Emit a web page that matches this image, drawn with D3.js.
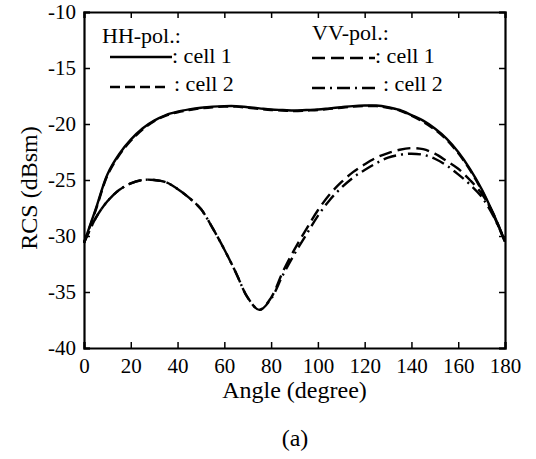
<!DOCTYPE html>
<html>
<head>
<meta charset="utf-8">
<script src="https://cdn.jsdelivr.net/npm/d3@7"></script>
<style>
  body { margin: 0; background: #fff; }
  svg text { font-family: "Liberation Serif", serif; fill: #000; }
</style>
</head>
<body>
<div id="grafico"></div>
<script>
// angulos (grados)
const angulos = d3.range(0, 181, 5);

// HH-pol. cell 1 (linea continua)
const hhCell1 = [-30.6, -27.6, -24.5, -22.7, -21.4, -20.4, -19.7, -19.2, -18.9, -18.7,
    -18.55, -18.45, -18.4, -18.4, -18.5, -18.6, -18.7, -18.75, -18.8, -18.75,
    -18.7, -18.6, -18.5, -18.4, -18.35, -18.35, -18.5, -18.75, -19.2, -19.7,
    -20.4, -21.3, -22.5, -24.0, -25.8, -28.0, -30.5];

// HH-pol. cell 2 (guiones)
const hhCell2 = [-30.6, -27.7, -24.6, -22.8, -21.5, -20.5, -19.75, -19.25, -18.95, -18.75,
    -18.6, -18.5, -18.45, -18.45, -18.55, -18.65, -18.75, -18.8, -18.85, -18.8,
    -18.75, -18.65, -18.55, -18.45, -18.4, -18.4, -18.55, -18.8, -19.25, -19.8,
    -20.5, -21.4, -22.6, -24.1, -25.9, -28.1, -30.5];

// VV-pol. cell 1 (guiones largos)
const vvCell1 = [-30.6, -28.4, -26.9, -25.9, -25.3, -25.0, -25.0, -25.2, -25.8, -26.6,
    -27.6, -29.3, -31.2, -33.3, -35.5, -36.6, -35.5, -33.2, -31.2, -29.4,
    -27.7, -26.3, -25.2, -24.3, -23.6, -23.0, -22.6, -22.3, -22.15, -22.25,
    -22.65, -23.3, -24.0, -25.0, -26.2, -28.0, -30.5];

// VV-pol. cell 2 (raya-punto)
const vvCell2 = [-30.6, -28.4, -26.9, -25.9, -25.3, -25.0, -25.0, -25.2, -25.8, -26.6,
    -27.6, -29.3, -31.2, -33.3, -35.5, -36.6, -35.6, -33.5, -31.6, -29.9,
    -28.2, -26.8, -25.7, -24.8, -24.1, -23.5, -23.0, -22.75, -22.65, -22.75,
    -23.1, -23.7, -24.5, -25.4, -26.5, -28.2, -30.5];

const ticksX = d3.range(0, 181, 20);
const ticksY = [-40, -35, -30, -25, -20, -15, -10];

const series = [
    { nombre: "HH1", valores: hhCell1, dash: null },
    { nombre: "HH2", valores: hhCell2, dash: "10,5" },
    { nombre: "VV1", valores: vvCell1, dash: "13,6" },
    { nombre: "VV2", valores: vvCell2, dash: "13,5,2,5" }
];

const fuente = "Liberation Serif, serif";

const svgWidth = 536, svgHeight = 459;
const margin = { top: 12, right: 31, bottom: 111, left: 84 };
const width = svgWidth - margin.left - margin.right;
const height = svgHeight - margin.top - margin.bottom;

const root = d3.select("#grafico")
    .append("svg")
    .attr("width", svgWidth)
    .attr("height", svgHeight)
    .attr("font-family", fuente);

const svg = root.append("g")
    .attr("transform", `translate(${margin.left}, ${margin.top})`);

const x = d3.scaleLinear().domain([0, 180]).range([0, width]);
const y = d3.scaleLinear().domain([-40, -10]).range([height, 0]);

// Ejes (ticks hacia dentro en los cuatro lados)
const ejeAbajo = svg.append("g")
    .attr("transform", `translate(0, ${height})`)
    .call(d3.axisBottom(x).tickValues(ticksX).tickSize(-6).tickPadding(10));
const ejeIzq = svg.append("g")
    .call(d3.axisLeft(y).tickValues(ticksY).tickSize(-6).tickPadding(8));
const ejeArriba = svg.append("g")
    .call(d3.axisTop(x).tickValues(ticksX).tickSize(-6).tickFormat(""));
const ejeDer = svg.append("g")
    .attr("transform", `translate(${width}, 0)`)
    .call(d3.axisRight(y).tickValues(ticksY).tickSize(-6).tickFormat(""));

[ejeAbajo, ejeIzq, ejeArriba, ejeDer].forEach(g => {
    g.attr("font-family", fuente).attr("font-size", 21);
    g.select(".domain").attr("stroke", "#000").attr("stroke-width", 2.2);
    g.selectAll(".tick line").attr("stroke", "#000").attr("stroke-width", 1.5);
    g.selectAll(".tick text").attr("fill", "#000");
});
ejeIzq.selectAll(".tick text").text(d => String(d)); // guion normal, no signo menos

// Curvas
const linea = d3.line()
    .x((d, i) => x(angulos[i]))
    .y(d => y(d))
    .curve(d3.curveCatmullRom);

svg.selectAll("path.curva")
    .data(series)
    .enter()
    .append("path")
    .attr("class", "curva")
    .attr("d", d => linea(d.valores))
    .attr("fill", "none")
    .attr("stroke", "#000")
    .attr("stroke-width", 2.4)
    .attr("stroke-dasharray", d => d.dash);

// Leyenda
const leyenda = root.append("g").attr("font-size", 22);

leyenda.append("text").attr("x", 102).attr("y", 43).text("HH-pol.:");
leyenda.append("line").attr("x1", 110).attr("x2", 172).attr("y1", 57).attr("y2", 57)
    .attr("stroke", "#000").attr("stroke-width", 2.4);
leyenda.append("text").attr("x", 172).attr("y", 63).text(": cell 1");
leyenda.append("line").attr("x1", 110).attr("x2", 168).attr("y1", 87).attr("y2", 87)
    .attr("stroke", "#000").attr("stroke-width", 2.4).attr("stroke-dasharray", "10,5");
leyenda.append("text").attr("x", 174).attr("y", 91).text(": cell 2");

leyenda.append("text").attr("x", 312).attr("y", 40).text("VV-pol.:");
leyenda.append("line").attr("x1", 312).attr("x2", 375).attr("y1", 58).attr("y2", 58)
    .attr("stroke", "#000").attr("stroke-width", 2.4).attr("stroke-dasharray", "13,6");
leyenda.append("text").attr("x", 375).attr("y", 63).text(": cell 1");
leyenda.append("line").attr("x1", 312).attr("x2", 380).attr("y1", 88).attr("y2", 88)
    .attr("stroke", "#000").attr("stroke-width", 2.4).attr("stroke-dasharray", "13,5,2,5");
leyenda.append("text").attr("x", 383).attr("y", 91).text(": cell 2");

// Titulos de ejes
root.append("text")
    .attr("x", margin.left + width / 2)
    .attr("y", 398)
    .attr("text-anchor", "middle")
    .attr("font-size", 24)
    .text("Angle (degree)");

root.append("text")
    .attr("transform", `translate(37, ${margin.top + height / 2 + 8}) rotate(-90)`)
    .attr("text-anchor", "middle")
    .attr("font-size", 24)
    .text("RCS (dBsm)");

root.append("text")
    .attr("x", 295)
    .attr("y", 446)
    .attr("text-anchor", "middle")
    .attr("font-size", 24)
    .text("(a)");
</script>
</body>
</html>
